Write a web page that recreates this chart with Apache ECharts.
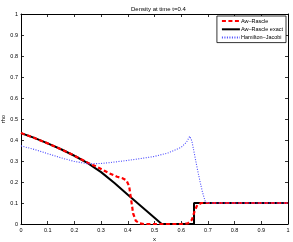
<!DOCTYPE html>
<html><head><meta charset="utf-8">
<script src="https://cdn.jsdelivr.net/npm/echarts@6/dist/echarts.min.js"></script>
<style>html,body{margin:0;padding:0;background:#fff}#c{width:293px;height:242px}</style>
</head><body><div id="c"></div>
<script>
const titleText = 'Density at time t=0.4';
const seriesNames = ['Aw\u2013Rascle', 'Aw\u2013Rascle exact', 'Hamilton\u2013Jacobi'];
const redX = [0,0.05,0.1,0.15,0.2,0.25,0.28,0.3,0.33,0.36,0.38,0.395,0.405,0.412,0.42,0.43,0.445,0.46,0.6,0.625,0.64,0.65,0.66,0.675,1];
const redY = [0.433,0.41,0.384,0.356,0.325,0.292,0.275,0.262,0.242,0.225,0.218,0.208,0.18,0.12,0.05,0.015,0.003,0,0,0.003,0.02,0.06,0.09,0.1,0.1];
const blackX = [0,0.05,0.1,0.15,0.2,0.25,0.3,0.35,0.4,0.45,0.5,0.527,0.648,0.648,1];
const blackY = [0.433,0.41,0.384,0.356,0.325,0.29,0.247,0.195,0.139,0.085,0.03,0,0,0.1,0.1];
const blueX = [0,0.05,0.1,0.15,0.2,0.25,0.3,0.35,0.4,0.45,0.5,0.55,0.6,0.62,0.632,0.64,0.65,0.66,0.67,0.68,0.69,0.7,1];
const blueY = [0.372,0.355,0.335,0.315,0.298,0.287,0.288,0.295,0.303,0.312,0.322,0.338,0.365,0.39,0.418,0.395,0.33,0.265,0.205,0.15,0.108,0.1,0.1];
const tickVals = [0,0.1,0.2,0.3,0.4,0.5,0.6,0.7,0.8,0.9,1];

const pair = (xs, ys) => xs.map((x, i) => [x, ys[i]]);
const font = 'Liberation Sans';
const fmt = v => (v === 0 ? '0' : v === 1 ? '1' : String(Math.round(v*10)/10));
const baseAxis = {
  type: 'value', min: 0, max: 1, interval: 0.1,
  axisLine: {show: true, onZero: false, lineStyle: {color: '#000', width: 1}},
  axisTick: {show: true, inside: true, length: 3, lineStyle: {color: '#000', width: 0.8}},
  splitLine: {show: false}
};
const chart = echarts.init(document.getElementById('c'), null, {renderer: 'canvas'});
chart.setOption({
  animation: false,
  backgroundColor: '#fff',
  title: {text: titleText, left: 126, top: 1,
    textStyle: {fontFamily: font, fontSize: 6, fontWeight: 'normal', color: '#000'}},
  legend: {
    data: seriesNames, orient: 'vertical', right: 7, top: 16,
    itemWidth: 18, itemHeight: 4, itemGap: 2.3, padding: [2, 3, 2, 4],
    borderColor: '#000', borderWidth: 0.8, backgroundColor: '#fff',
    itemStyle: {opacity: 0},
    textStyle: {fontFamily: font, fontSize: 5.5, color: '#000', padding: [0,0,0,-4]}
  },
  grid: {left: 21, right: 5, top: 14, bottom: 18, containLabel: false, outerBoundsMode: 'none'},
  xAxis: [
    Object.assign({}, baseAxis, {position: 'bottom', name: 'x', nameLocation: 'middle', nameGap: 12,
      nameMoveOverlap: false,
      nameTextStyle: {fontFamily: font, fontSize: 6, color: '#000'},
      axisLabel: {fontFamily: font, fontSize: 5.5, color: '#000', margin: 3, formatter: fmt}}),
    Object.assign({}, baseAxis, {position: 'top', axisLabel: {show: false}})
  ],
  yAxis: [
    Object.assign({}, baseAxis, {position: 'left', name: 'rho', nameLocation: 'middle', nameGap: 15,
      nameRotate: 90, nameMoveOverlap: false,
      nameTextStyle: {fontFamily: font, fontSize: 5.5, color: '#000'},
      axisLabel: {fontFamily: font, fontSize: 5.5, color: '#000', margin: 3, formatter: fmt}}),
    Object.assign({}, baseAxis, {position: 'right', axisLabel: {show: false}})
  ],
  series: [
    {name: seriesNames[0], type: 'line', data: pair(redX, redY), symbol: 'none', smooth: false, z: 3,
      itemStyle: {color: '#ff0000'},
      lineStyle: {color: '#ff0000', width: 2.2, type: [4, 2.5]}},
    {name: seriesNames[1], type: 'line', data: pair(blackX, blackY), symbol: 'none', z: 2,
      itemStyle: {color: '#000'},
      lineStyle: {color: '#000', width: 2}},
    {name: seriesNames[2], type: 'line', data: pair(blueX, blueY), symbol: 'none', z: 4,
      itemStyle: {color: '#4a4aff'},
      lineStyle: {color: '#4a4aff', width: 1.1, type: [1, 1.5]}}
  ]
});
</script></body></html>
